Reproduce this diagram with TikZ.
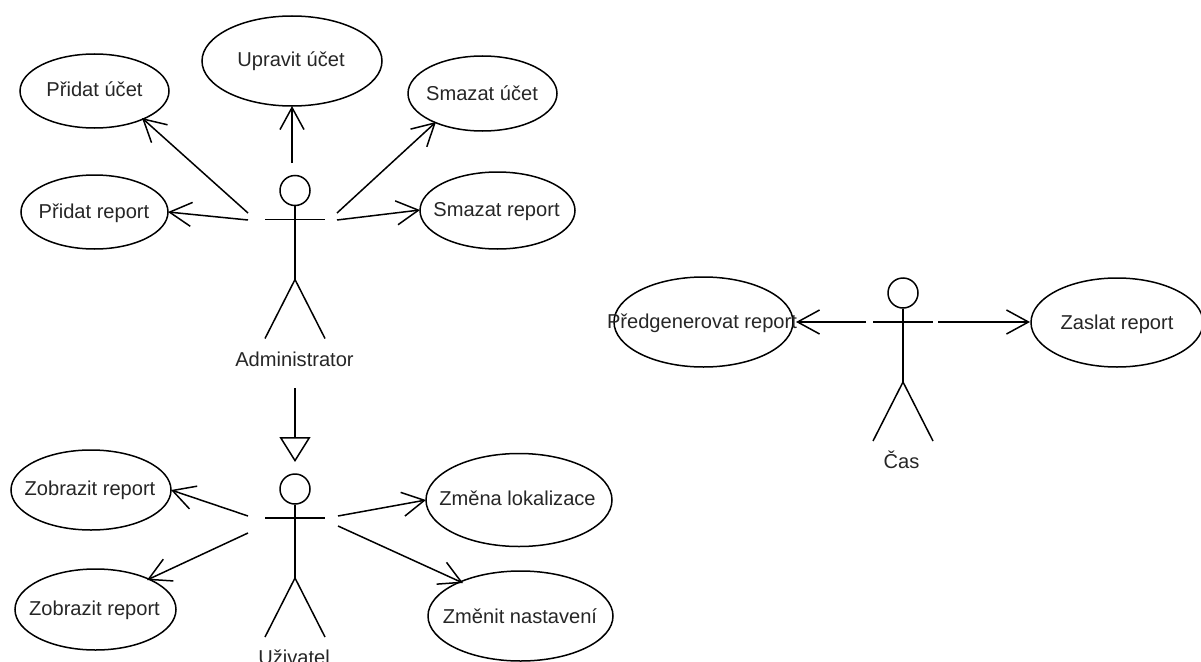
\documentclass[tikz,border=0pt]{standalone}
\usepackage{fontspec}
\setmainfont{Liberation Sans}
\usetikzlibrary{arrows.meta,shapes.geometric}
\tikzset{
  lbl/.style={font=\fontsize{20.1}{22}\selectfont,inner sep=0pt,text=black!85,text height=14.5pt,text depth=4pt,yshift=-2pt},
  usecase/.style={draw,ellipse,line width=1.5pt,inner sep=0pt},
  act/.style={line width=1.5pt},
  assoc/.style={line width=1.5pt,-{Straight Barb[length=22pt,width=24pt,line width=1.5pt]}},
  gen/.style={line width=1.5pt,-{Triangle[open,length=25pt,width=31pt,line width=1.5pt]}},
  head/.style={draw,circle,line width=1.5pt,minimum size=30pt,inner sep=0pt}
}
\newcommand{\actor}[3]{% name, x, y of head centre (pixels)
  \node[head] (#1h) at (#2,#3) {};
  \coordinate (#1hip) at (#2,#3+89);
  \coordinate (#1arml) at (#2-30,#3+29);
  \coordinate (#1armr) at (#2+30,#3+29);
  \coordinate (#1legl) at (#2-30,#3+148);
  \coordinate (#1legr) at (#2+30,#3+148);
  \draw[act] (#1h.south) -- (#1hip);
  \draw[act] (#1arml) -- (#1armr);
  \draw[act] (#1hip) -- (#1legl);
  \draw[act] (#1hip) -- (#1legr);
}
\begin{document}
\begin{tikzpicture}[x=1pt,y=-1pt]
\useasboundingbox (0,0) rectangle (1201,661);
\actor{a}{295}{190.5}
\actor{u}{295}{489}
\actor{c}{903}{293}
\node[usecase,minimum width=149pt,minimum height=74pt] (pu) at (94.5,91) {};
\node[usecase,minimum width=180pt,minimum height=90pt] (uu) at (292,61) {};
\node[usecase,minimum width=149pt,minimum height=75pt] (su) at (482.5,93.5) {};
\node[usecase,minimum width=147pt,minimum height=74pt] (pr) at (94.5,212) {};
\node[usecase,minimum width=155pt,minimum height=77pt] (sr) at (497.5,210.5) {};
\node[usecase,minimum width=160pt,minimum height=80pt] (zr1) at (91,490) {};
\node[usecase,minimum width=161pt,minimum height=81pt] (zr2) at (95.5,609.5) {};
\node[usecase,minimum width=186pt,minimum height=93pt] (zl) at (519,500) {};
\node[usecase,minimum width=185pt,minimum height=90pt] (zn) at (520.5,616) {};
\node[usecase,minimum width=179pt,minimum height=90pt] (pg) at (703.5,322) {};
\node[usecase,minimum width=172pt,minimum height=89pt] (zar) at (1117,322.5) {};
\node[lbl] (put) at (94.5,89) {Přidat účet};
\node[lbl] (uut) at (291,59) {Upravit účet};
\node[lbl] (sut) at (482,93) {Smazat účet};
\node[lbl] (prt) at (94,211) {Přidat report};
\node[lbl] (srt) at (496.5,209) {Smazat report};
\node[lbl] (zr1t) at (90,488) {Zobrazit report};
\node[lbl] (zr2t) at (94.5,608) {Zobrazit report};
\node[lbl] (zlt) at (517.5,498) {Změna lokalizace};
\node[lbl] (znt) at (520,616) {Změnit nastavení};
\node[lbl] (pgt) at (702,321.5) {Předgenerovat report};
\node[lbl] (zart) at (1117,322) {Zaslat report};
\node[lbl] (al) at (294.5,359) {Administrator};
\node[lbl] (ul) at (294,657) {Uživatel};
\node[lbl] (cl) at (901.5,461) {Čas};
\coordinate (f1) at (248,213);
\coordinate (f2) at (292,163);
\coordinate (f3) at (337,213);
\coordinate (f4) at (248,220);
\coordinate (f5) at (337,220);
\coordinate (g1) at (248,516);
\coordinate (g2) at (248,533);
\coordinate (g3) at (338,516);
\coordinate (g4) at (338,526);
\coordinate (c1) at (866,322);
\coordinate (c2) at (938,322);
\coordinate (gs) at (295,388);
\coordinate (gt) at (295,462);
\coordinate (t1) at (142,118);
\coordinate (t2) at (292,106);
\coordinate (t3) at (436,122);
\coordinate (t4) at (168,212);
\coordinate (t5) at (420,210);
\coordinate (t6) at (171,490);
\coordinate (t7) at (147,580);
\coordinate (t8) at (426,500);
\coordinate (t9) at (463,583);
\coordinate (t10) at (796,322);
\coordinate (t11) at (1030,322);
\draw[assoc] (f1) -- (t1);
\draw[assoc] (f2) -- (t2);
\draw[assoc] (f3) -- (t3);
\draw[assoc] (f4) -- (t4);
\draw[assoc] (f5) -- (t5);
\draw[assoc] (g1) -- (t6);
\draw[assoc] (g2) -- (t7);
\draw[assoc] (g3) -- (t8);
\draw[assoc] (g4) -- (t9);
\draw[assoc] (c1) -- (t10);
\draw[assoc] (c2) -- (t11);
\draw[gen] (gs) -- (gt);
\end{tikzpicture}
\end{document}
